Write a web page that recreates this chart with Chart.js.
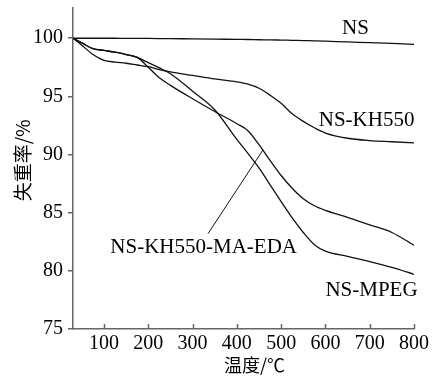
<!DOCTYPE html>
<html>
<head>
<meta charset="utf-8">
<script src="https://cdn.jsdelivr.net/npm/chart.js@4.4.1/dist/chart.umd.min.js"></script>
<style>
  html, body { margin: 0; padding: 0; background: #fff; }
  #wrap { width: 437px; height: 378px; }
</style>
</head>
<body>
<div id="wrap"><canvas id="tga"></canvas></div>
<script>
// TGA curves, mass retention (%) vs temperature (°C)
var temps = [30, 50, 75, 100, 125, 150, 175, 200, 225, 250, 300, 350, 400, 425, 450, 475, 500, 525, 550, 575, 600, 650, 700, 750, 800];

var nsLoss    = [100, 100, 100, 100, 100, 99.99, 99.99, 99.98, 99.97, 99.96, 99.95, 99.93, 99.9, 99.89, 99.87, 99.86, 99.84, 99.82, 99.8, 99.78, 99.75, 99.68, 99.62, 99.55, 99.48];
var kh550Loss = [100, 99.4, 98.6, 98.1, 97.95, 97.85, 97.7, 97.55, 97.3, 97.1, 96.8, 96.5, 96.25, 96.05, 95.7, 95.1, 94.4, 93.5, 92.85, 92.3, 91.85, 91.4, 91.2, 91.1, 91.0];
var edaLoss   = [100, 99.6, 99.1, 98.95, 98.8, 98.6, 98.35, 97.5, 96.6, 95.95, 94.8, 93.7, 92.65, 92.05, 90.85, 89.5, 88.2, 87.1, 86.2, 85.6, 85.2, 84.6, 83.95, 83.3, 82.2];
var mpegLoss  = [100, 99.6, 99.1, 98.95, 98.8, 98.6, 98.35, 97.9, 97.45, 96.95, 95.45, 93.85, 91.3, 90.1, 88.85, 87.4, 85.95, 84.55, 83.3, 82.25, 81.7, 81.25, 80.8, 80.3, 79.7];

var seriesNames = ['NS', 'NS-KH550', 'NS-KH550-MA-EDA', 'NS-MPEG'];

var xTicks = [100, 200, 300, 400, 500, 600, 700, 800];
var yTicks = [75, 80, 85, 90, 95, 100];

var xTitle = '温度/℃';
var yTitle = '失重率/%';

// leader from the MA-EDA label up to its curve (data coords)
var leaderX = [335, 459];
var leaderY = [83.2, 90.4];

var axisColor = '#666';
var lineColor = '#111';
var serif = "'Liberation Serif', 'Times New Roman', serif";
var cjk = "'Noto Sans CJK SC', sans-serif";

function toPoints(xs, ys) {
  return xs.map(function(x, i) { return { x: x, y: ys[i] }; });
}

function curve(values) {
  return {
    data: toPoints(temps, values),
    borderColor: lineColor,
    borderWidth: 1.3,
    pointRadius: 0,
    fill: false,
    cubicInterpolationMode: 'monotone'
  };
}

// where each series name sits, in data units
var labelSpots = [
  { x: 668, y: 100.86 },
  { x: 693, y: 92.93 },
  { x: 325, y: 82.0 },
  { x: 704, y: 78.3 }
];

var decor = {
  id: 'decor',
  afterDatasetsDraw: function(chart) {
    var ctx = chart.ctx;
    var xs = chart.scales.x, ys = chart.scales.y;
    ctx.save();
    // inward ticks on the x axis
    ctx.strokeStyle = axisColor;
    ctx.lineWidth = 1.5;
    xTicks.forEach(function(v) {
      var px = Math.round(xs.getPixelForValue(v)) + 0.5;
      ctx.beginPath();
      ctx.moveTo(px, xs.top);
      ctx.lineTo(px, xs.top - 5);
      ctx.stroke();
    });
    // series names
    ctx.fillStyle = '#000';
    ctx.font = '21px ' + serif;
    ctx.textAlign = 'center';
    ctx.textBaseline = 'middle';
    seriesNames.forEach(function(name, i) {
      var s = labelSpots[i];
      ctx.fillText(name, xs.getPixelForValue(s.x), ys.getPixelForValue(s.y));
    });
    // axis titles, sitting a bit right / above the plot centre as in the source
    ctx.font = '18px ' + cjk;
    ctx.fillText(xTitle, xs.getPixelForValue(440), chart.height - 13);
    ctx.translate(23, ys.getPixelForValue(89.5));
    ctx.rotate(-Math.PI / 2);
    ctx.font = '19px ' + cjk;
    ctx.fillText(yTitle, 0, 0);
    ctx.restore();
  }
};

var datasets = [curve(nsLoss), curve(kh550Loss), curve(edaLoss), curve(mpegLoss), {
  data: toPoints(leaderX, leaderY),
  borderColor: lineColor,
  borderWidth: 1,
  pointRadius: 0,
  tension: 0,
  fill: false
}];

new Chart(document.getElementById('tga'), {
  type: 'line',
  data: { datasets: datasets },
  plugins: [decor],
  options: {
    responsive: true,
    maintainAspectRatio: false,
    animation: false,
    layout: { padding: { left: 0, right: 23, top: 8, bottom: 0 } },
    plugins: { legend: { display: false }, tooltip: { enabled: false } },
    scales: {
      x: {
        type: 'linear',
        min: 30,
        max: 800,
        afterBuildTicks: function(s) { s.ticks = xTicks.map(function(v) { return { value: v }; }); },
        afterFit: function(s) { s.height = 49; },
        border: { color: axisColor, width: 1.5 },
        grid: { display: false, drawTicks: false },
        ticks: { color: '#000', padding: 3, maxRotation: 0, font: { family: serif, size: 20 } }
      },
      y: {
        min: 75,
        max: 102.6,
        afterBuildTicks: function(s) { s.ticks = yTicks.map(function(v) { return { value: v }; }); },
        afterFit: function(s) {
          s.width = 73;
          s.paddingTop = 0;
          s.paddingBottom = 0;
        },
        border: { color: axisColor, width: 1.5 },
        grid: { drawOnChartArea: false, drawTicks: true, tickLength: 5, color: axisColor, lineWidth: 1.5 },
        ticks: { color: '#000', padding: 5, font: { family: serif, size: 20 } }
      }
    }
  }
});
</script>
</body>
</html>
